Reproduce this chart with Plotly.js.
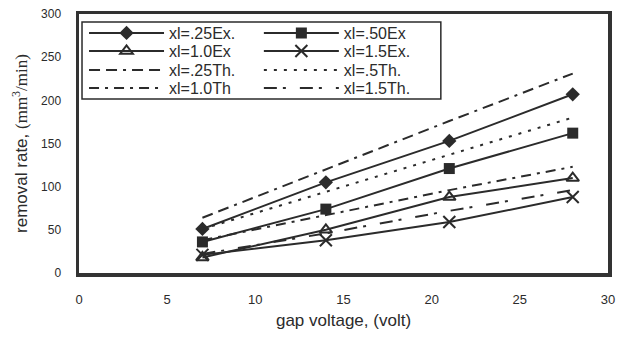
<!DOCTYPE html>
<html>
<head>
<meta charset="utf-8">
<script src="https://cdn.plot.ly/plotly-3.0.1.min.js"></script>
<style>html,body{margin:0;padding:0;background:#fff;}#chart{width:617px;height:337px;}</style>
</head>
<body>
<div id="chart"></div>
<script>
// gap voltage (volt)
const voltage = [7, 14, 21, 28];
// experimental removal rates (mm^3/min)
const ex025 = [51, 105, 153, 207];
const ex050 = [36, 74, 121, 162];
const ex100 = [18, 50, 88, 110];
const ex150 = [21, 38, 59, 88];
// theoretical removal rates (mm^3/min)
const th025 = [64, 120, 176, 231];
const th050 = [51, 94, 137, 180];
const th100 = [38, 67, 96, 123];
const th150 = [22, 46, 72, 96];

const names = ['xl=.25Ex.', 'xl=.50Ex', 'xl=1.0Ex', 'xl=1.5Ex.',
               'xl=.25Th.', 'xl=.5Th.', 'xl=1.0Th', 'xl=1.5Th.'];
const series = [ex025, ex050, ex100, ex150, th025, th050, th100, th150];

const ink = '#2b2b2b';
const markerDefs = [
  {symbol: 'diamond', size: 11, color: ink},
  {symbol: 'square', size: 11, color: ink},
  {symbol: 'triangle-up-open', size: 11, color: ink, line: {width: 2, color: ink}},
  {symbol: 'x-thin-open', size: 12, color: ink, line: {width: 2, color: ink}}
];
const dashes = ['11px,6px,11px,6px,3px,6px', '3px,7px', '10px,6px,3px,6px', '13px,6px,3px,14px'];

// legend slots: two columns, four rows (row-major order like the reference)
const legX = [0.0095, 0.340];
const legY = [0.9266, 0.857, 0.7838, 0.7143];

const traces = series.map((ys, i) => {
  const isEx = i < 4;
  const t = {
    x: voltage, y: ys, name: names[i], type: 'scatter',
    mode: isEx ? 'lines+markers' : 'lines',
    line: {color: ink, width: 2, dash: isEx ? 'solid' : dashes[i - 4]},
    legend: i === 0 ? 'legend' : 'legend' + (i + 1)
  };
  if (isEx) t.marker = markerDefs[i];
  return t;
});

const layout = {
  width: 617, height: 337,
  margin: {l: 79, r: 9, t: 14, b: 64},
  paper_bgcolor: '#fff', plot_bgcolor: '#fff',
  font: {family: 'Liberation Sans, Arial, sans-serif', color: ink},
  showlegend: true,
  shapes: [{
    type: 'rect', xref: 'paper', yref: 'paper',
    x0: 0.0057, x1: 0.684, y0: 0.672, y1: 0.969,
    line: {color: ink, width: 1.5}, fillcolor: 'rgba(255,255,255,0)', layer: 'above'
  }],
  xaxis: {
    range: [0, 30], tickvals: [0, 5, 10, 15, 20, 25, 30],
    showgrid: false, zeroline: false, ticks: '',
    showline: true, mirror: true, linewidth: 3.5, linecolor: '#333',
    ticklabelstandoff: 12,
    tickfont: {size: 13, color: ink},
    title: {text: 'gap voltage, (volt)', font: {size: 17, color: ink}, standoff: 9}
  },
  yaxis: {
    range: [0, 300], tickvals: [0, 50, 100, 150, 200, 250, 300],
    showgrid: false, zeroline: false, ticks: '',
    showline: true, mirror: true, linewidth: 3.5, linecolor: '#333',
    ticklabelstandoff: 12,
    tickfont: {size: 12, color: ink},
    title: {text: 'removal rate, <span style="font-family:Liberation Serif, Times New Roman, serif">(mm<sup>3</sup>/min)</span>',
            font: {size: 17, color: ink}, standoff: 10}
  }
};

for (let i = 0; i < 8; i++) {
  const key = i === 0 ? 'legend' : 'legend' + (i + 1);
  layout[key] = {
    x: legX[i % 2], y: legY[Math.floor(i / 2)], xanchor: 'left', yanchor: 'middle',
    itemwidth: 75, bgcolor: 'rgba(0,0,0,0)', borderwidth: 0,
    font: {size: 16, color: ink}
  };
}

Plotly.newPlot('chart', traces, layout, {staticPlot: true, displayModeBar: false});
</script>
</body>
</html>
